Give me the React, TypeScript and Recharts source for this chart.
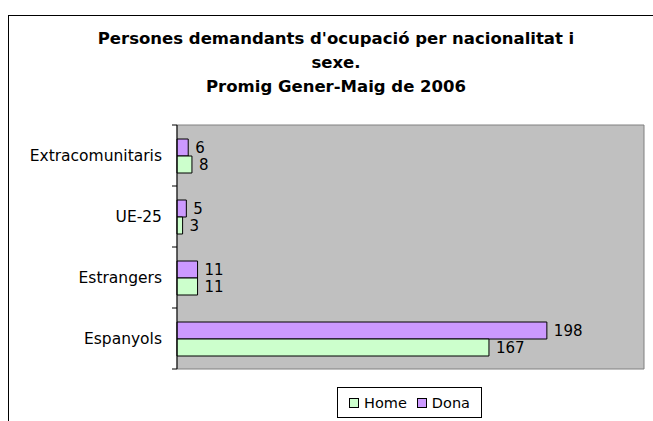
import { BarChart, Bar, XAxis, YAxis, CartesianGrid, ReferenceArea, LabelList } from 'recharts';

// categories listed top to bottom, as they appear in the chart
const categories = ['Extracomunitaris', 'UE-25', 'Estrangers', 'Espanyols'];
const homeValues = [8, 3, 11, 167];
const donaValues = [6, 5, 11, 198];
const titleLines = ["Persones demandants d'ocupació per nacionalitat i", 'sexe.', 'Promig Gener-Maig de 2006'];
const seriesNames = ['Home', 'Dona'];
const seriesColors = ['#ccffcc', '#cc99ff'];

const FONT = '"DejaVu Sans", Verdana, sans-serif';
const TICK_SIZE = 6;
const TICK_MARGIN = 9;

// category label plus a small tick mark on the band edges (Excel style)
const CategoryTick = (props: any) => {
  const { x, y, payload, index, visibleTicksCount } = props;
  const axisX = x + TICK_SIZE + TICK_MARGIN;
  const half = payload.offset || 0;
  const isLast = index === visibleTicksCount - 1;
  return (
    <g>
      <text x={x} y={y} dy="0.355em" textAnchor="end" fill="#000" fontSize={15.5} fontFamily={FONT}>
        {payload.value}
      </text>
      <line x1={axisX - 5} x2={axisX} y1={y - half} y2={y - half} stroke="#000" />
      {isLast && <line x1={axisX - 5} x2={axisX} y1={y + half} y2={y + half} stroke="#000" />}
    </g>
  );
};

export default function App() {
  const chartData = categories.map((name, i) => ({
    name,
    home: homeValues[i],
    dona: donaValues[i],
  }));

  return (
    <div style={{ position: 'absolute', left: 0, top: 0, width: 653, height: 421, overflow: 'hidden', background: '#fff', fontFamily: FONT }}>
      {/* chart area frame */}
      <div style={{ position: 'absolute', left: 8, top: 15, width: 656, height: 430, border: '1px solid #000', boxSizing: 'border-box' }} />

      <div style={{ position: 'absolute', left: 8, top: 27, width: 656, textAlign: 'center', fontWeight: 'bold', fontSize: 16.5, lineHeight: '24px', color: '#000' }}>
        {titleLines.map((line) => (
          <div key={line}>{line}</div>
        ))}
      </div>

      <div style={{ position: 'absolute', left: 0, top: 0 }}>
        <BarChart
          width={653}
          height={421}
          data={chartData}
          layout="vertical"
          margin={{ top: 125, right: 9, bottom: 52, left: 0 }}
          barSize={17}
          barGap={0}
        >
          <CartesianGrid horizontal={false} vertical={false} fill="#c0c0c0" fillOpacity={1} />
          <ReferenceArea x1={0} x2={250} fill="none" stroke="#808080" strokeWidth={1} />
          <XAxis type="number" domain={[0, 250]} hide />
          <YAxis
            type="category"
            dataKey="name"
            width={177}
            axisLine={{ stroke: '#000' }}
            tickLine={false}
            tickSize={TICK_SIZE}
            tickMargin={TICK_MARGIN}
            tick={<CategoryTick />}
          />
          <Bar dataKey="dona" name="Dona" fill={seriesColors[1]} stroke="#000" strokeWidth={1} isAnimationActive={false}>
            <LabelList dataKey="dona" position="right" offset={7} fill="#000" fontSize={15} fontFamily={FONT} />
          </Bar>
          <Bar dataKey="home" name="Home" fill={seriesColors[0]} stroke="#000" strokeWidth={1} isAnimationActive={false}>
            <LabelList dataKey="home" position="right" offset={7} fill="#000" fontSize={15} fontFamily={FONT} />
          </Bar>
        </BarChart>
      </div>

      {/* legend */}
      <div style={{ position: 'absolute', left: 337, top: 387, width: 145, height: 31, border: '1px solid #000', boxSizing: 'border-box', display: 'flex', alignItems: 'center', justifyContent: 'center', gap: 10, fontSize: 14.5, color: '#000' }}>
        {seriesNames.map((name, i) => (
          <div key={name} style={{ display: 'flex', alignItems: 'center' }}>
            <span style={{ display: 'inline-block', width: 8, height: 8, background: seriesColors[i], border: '1px solid #000', marginRight: 5 }} />
            <span>{name}</span>
          </div>
        ))}
      </div>
    </div>
  );
}
